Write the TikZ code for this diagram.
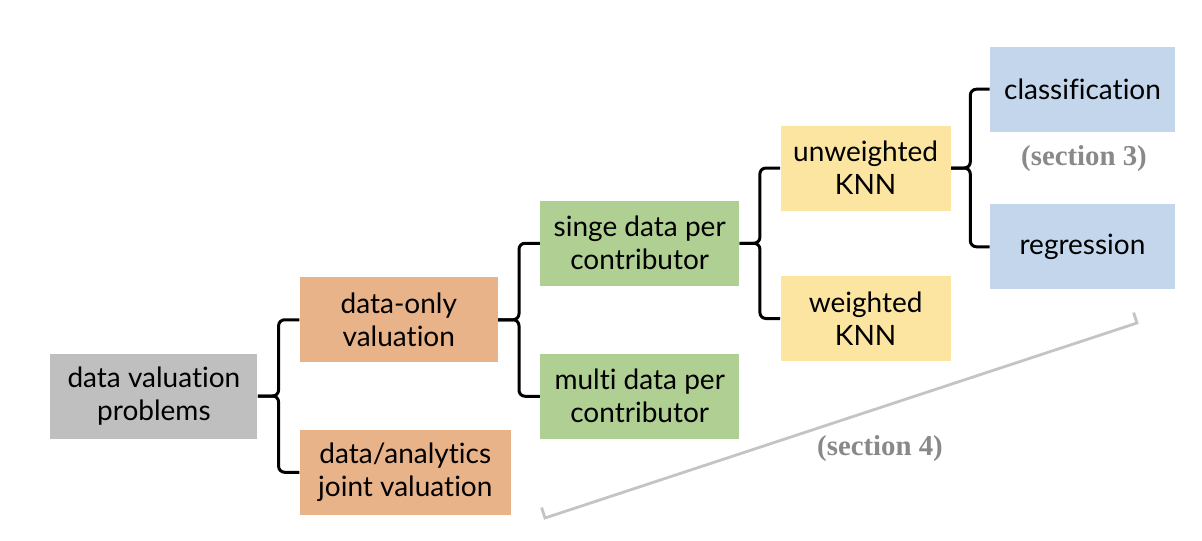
\documentclass[tikz,border=0pt]{standalone}
\usepackage{fontspec}
\setmainfont{Lato}[Ligatures=NoCommon]
\newfontfamily\secfont{Liberation Serif}
\usepackage{tikz}
\usetikzlibrary{calc}
\definecolor{rootgray}{HTML}{BFBFBF}
\definecolor{valorange}{HTML}{E9B38A}
\definecolor{contribgreen}{HTML}{B0CF93}
\definecolor{knnyellow}{HTML}{FBE5A1}
\definecolor{taskblue}{HTML}{C3D6EC}
\definecolor{secgray}{HTML}{898989}
\definecolor{seclinegray}{HTML}{C4C4C4}

\begin{document}
\begin{tikzpicture}
                            [grow'=right,
                             level 1/.style={level distance=72.75pt, sibling distance=76.25pt, nodes={fill=valorange, minimum width=99pt}},
                             level 2/.style={level distance=70.5pt, sibling distance=76.5pt, nodes={fill=contribgreen, minimum width=99.5pt}},
                             level 3/.style={level distance=70.25pt, sibling distance=75.25pt, nodes={fill=knnyellow, minimum width=85pt}},
                             level 4/.style={level distance=62pt, sibling distance=78.75pt, nodes={fill=taskblue, minimum width=92.5pt}},
                             every node/.style={anchor=west, align=center, minimum height=42.5pt, inner sep=0pt, font=\fontsize{14}{16.5}\selectfont},
                             secnote/.style={anchor=center, minimum height=0pt, minimum width=0pt, text=secgray, font=\secfont\bfseries\fontsize{14.4}{16}\selectfont},
                             secline/.style={draw=seclinegray, line width=1.4pt},
                             edge from parent/.style={draw, line width=1.5pt, rounded corners=3pt},
                             edge from parent path={let \p1=(\tikzparentnode.east), \p2=(\tikzchildnode.west) in (\p1) -- ({(\x1+\x2)/2},\y1) |- (\p2)}]

                            \useasboundingbox (0,0) rectangle (601pt,-270pt);

                            \node[fill=rootgray, minimum width=103.5pt] (root) at (25pt,-198pt) {data valuation\\problems}
                              child {node (donly) {data-only\\valuation}
                                child {node (single) {singe data per\\contributor}
                                  child {node (unwknn) {unweighted\\KNN}
                                    child {node (clf) {classification}}
                                    child {node (reg) {regression}}}
                                  child {node (wknn) {weighted\\KNN}}}
                                child {node (multi) {multi data per\\contributor}}}
                              child {node[minimum width=105.5pt] (joint) {data/analytics\\joint valuation}};

                            \node[secnote] (sec3) at (542pt,-79.5pt) {(section 3)};
                            \node[secnote] (sec4) at (440pt,-224.5pt) {(section 4)};

                            \coordinate (brl) at (272.5pt,-259pt);
                            \coordinate (brr) at (568.5pt,-161.5pt);
                            \draw[secline] ($(brl)!5.5pt!90:(brr)$) -- (brl) -- (brr) -- ($(brr)!5.5pt!-90:(brl)$);
                        \end{tikzpicture}
\end{document}
